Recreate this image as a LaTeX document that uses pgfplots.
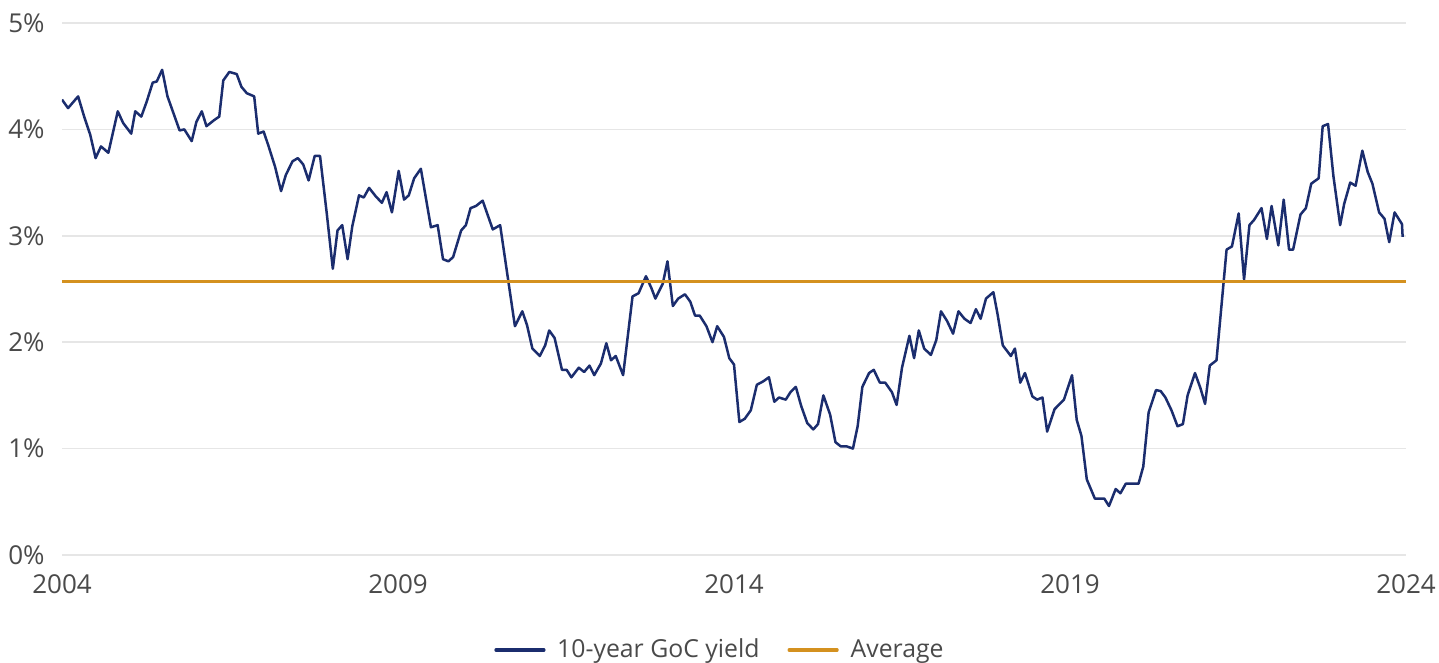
\documentclass[border=0pt]{standalone}
\usepackage{pgfplots}
\pgfplotsset{compat=1.18}
\usepackage{pgfplotstable}
\usepackage{fontspec}
\setmainfont{Open Sans}
\definecolor{navy}{HTML}{1B2D6E}
\definecolor{gold}{HTML}{D4911F}
\definecolor{txt}{HTML}{4A4A4A}
\definecolor{gridc}{HTML}{E6E6E6}
\pgfplotstableread{
t y
2004.00 4.28
2004.09 4.20
2004.24 4.31
2004.33 4.12
2004.42 3.95
2004.50 3.73
2004.58 3.84
2004.69 3.78
2004.83 4.17
2004.91 4.06
2005.03 3.96
2005.09 4.17
2005.18 4.12
2005.26 4.26
2005.35 4.44
2005.41 4.45
2005.49 4.56
2005.57 4.31
2005.66 4.15
2005.75 3.99
2005.82 4.00
2005.93 3.89
2006.00 4.07
2006.08 4.17
2006.15 4.03
2006.27 4.09
2006.34 4.12
2006.40 4.46
2006.49 4.54
2006.60 4.52
2006.67 4.40
2006.75 4.34
2006.86 4.31
2006.92 3.96
2007.00 3.98
2007.07 3.85
2007.17 3.65
2007.26 3.42
2007.33 3.57
2007.43 3.70
2007.51 3.73
2007.59 3.67
2007.67 3.52
2007.76 3.75
2007.84 3.75
2007.94 3.21
2008.03 2.69
2008.10 3.05
2008.17 3.10
2008.25 2.78
2008.32 3.09
2008.42 3.38
2008.49 3.36
2008.57 3.45
2008.67 3.37
2008.76 3.31
2008.83 3.41
2008.91 3.22
2009.01 3.61
2009.09 3.34
2009.16 3.38
2009.24 3.54
2009.34 3.63
2009.49 3.08
2009.59 3.10
2009.67 2.78
2009.75 2.76
2009.82 2.80
2009.94 3.05
2010.01 3.10
2010.08 3.26
2010.16 3.28
2010.26 3.33
2010.41 3.06
2010.52 3.10
2010.74 2.15
2010.85 2.29
2010.92 2.16
2011.00 1.94
2011.11 1.87
2011.19 1.97
2011.25 2.11
2011.33 2.04
2011.44 1.74
2011.51 1.74
2011.58 1.67
2011.69 1.76
2011.77 1.72
2011.85 1.78
2011.92 1.69
2012.02 1.80
2012.10 1.99
2012.17 1.83
2012.24 1.87
2012.35 1.69
2012.49 2.43
2012.58 2.46
2012.69 2.62
2012.77 2.51
2012.83 2.41
2012.94 2.55
2013.01 2.76
2013.09 2.34
2013.17 2.41
2013.27 2.45
2013.35 2.38
2013.42 2.25
2013.49 2.25
2013.59 2.15
2013.68 2.00
2013.75 2.15
2013.85 2.05
2013.93 1.85
2014.00 1.79
2014.08 1.25
2014.16 1.28
2014.25 1.36
2014.34 1.60
2014.43 1.63
2014.52 1.67
2014.60 1.44
2014.67 1.48
2014.77 1.46
2014.84 1.53
2014.92 1.58
2015.00 1.40
2015.09 1.24
2015.18 1.18
2015.25 1.23
2015.33 1.50
2015.43 1.32
2015.51 1.06
2015.59 1.02
2015.68 1.02
2015.77 1.00
2015.84 1.21
2015.91 1.58
2016.01 1.71
2016.08 1.74
2016.17 1.62
2016.25 1.62
2016.35 1.53
2016.42 1.41
2016.50 1.76
2016.61 2.06
2016.68 1.85
2016.75 2.11
2016.83 1.94
2016.93 1.88
2017.01 2.02
2017.08 2.29
2017.17 2.20
2017.26 2.08
2017.34 2.29
2017.43 2.22
2017.52 2.18
2017.60 2.31
2017.67 2.22
2017.75 2.41
2017.86 2.47
2017.92 2.27
2018.00 1.97
2018.12 1.87
2018.18 1.94
2018.26 1.62
2018.33 1.71
2018.44 1.49
2018.51 1.46
2018.59 1.48
2018.66 1.16
2018.77 1.37
2018.91 1.46
2019.03 1.69
2019.10 1.27
2019.17 1.12
2019.25 0.71
2019.37 0.53
2019.51 0.53
2019.58 0.46
2019.68 0.62
2019.75 0.58
2019.83 0.67
2020.02 0.67
2020.09 0.83
2020.17 1.34
2020.28 1.55
2020.35 1.54
2020.42 1.48
2020.51 1.36
2020.60 1.21
2020.68 1.23
2020.75 1.50
2020.86 1.71
2020.94 1.57
2021.01 1.42
2021.08 1.78
2021.18 1.83
2021.33 2.87
2021.41 2.90
2021.51 3.21
2021.59 2.59
2021.67 3.10
2021.74 3.15
2021.85 3.26
2021.93 2.97
2022.00 3.28
2022.10 2.91
2022.18 3.34
2022.26 2.87
2022.32 2.87
2022.43 3.20
2022.51 3.26
2022.59 3.49
2022.70 3.54
2022.76 4.03
2022.84 4.05
2022.92 3.56
2023.02 3.10
2023.08 3.30
2023.17 3.50
2023.25 3.47
2023.35 3.80
2023.43 3.60
2023.50 3.49
2023.60 3.22
2023.68 3.16
2023.75 2.94
2023.83 3.22
2023.94 3.11
2023.95 2.99
}\yielddata
\pgfplotstableread{
t y
2004 2.57
2024 2.57
}\avgdata
\begin{document}
\begin{tikzpicture}
\begin{axis}[
  scale only axis,
  width=672bp, height=266bp,
  xmin=2004, xmax=2024, ymin=0, ymax=5,
  axis line style={draw=none},
  tick style={draw=none},
  xtick={2004,2009,2014,2019,2024},
  xticklabels={2004,2009,2014,2019,2024},
  ytick={0,1,2,3,4,5},
  yticklabels={0\%,1\%,2\%,3\%,4\%,5\%},
  ymajorgrids,
  grid style={gridc, line width=0.75bp},
  ticklabel style={font=\fontsize{13bp}{15bp}\selectfont, text=txt},
  yticklabel style={anchor=east, inner sep=0pt, xshift=-8.5bp},
  xticklabel style={anchor=north, inner sep=0pt, yshift=-9.5bp},
  legend columns=2,
  legend style={at={(0.4903,-0.1786)}, anchor=center, draw=none, fill=none,
    font=\fontsize{12.4bp}{14bp}\selectfont, text=txt,
    /tikz/every even column/.append style={column sep=12bp}},
  legend image code/.code={\draw[#1, line width=1.6bp, line cap=round] (0bp,0bp) -- (24bp,0bp);\path (28bp,0bp);},
]
\coordinate (bl) at (rel axis cs:0,0);
\coordinate (tr) at (rel axis cs:1,1);
\addplot[navy, line width=1.25bp, line join=round] table[x=t,y=y]{\yielddata};
\addlegendentry{10-year GoC yield}
\addplot[gold, line width=1.5bp] table[x=t,y=y]{\avgdata};
\addlegendentry{Average}
\end{axis}
\pgfresetboundingbox
\path ([xshift=-31bp,yshift=-54bp]bl) rectangle ([xshift=16.5bp,yshift=11.5bp]tr);
\end{tikzpicture}
\end{document}
